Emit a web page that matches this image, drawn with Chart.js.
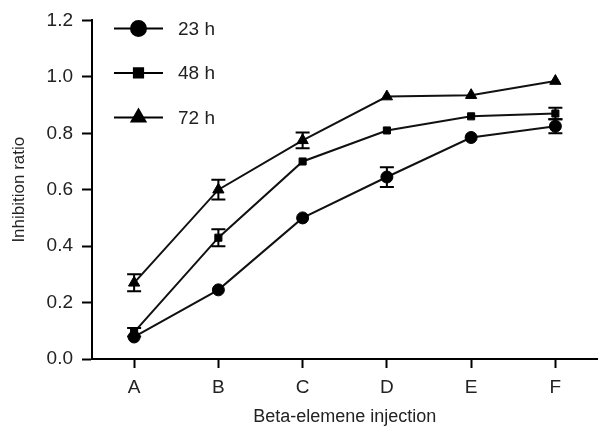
<!DOCTYPE html>
<html>
<head>
<meta charset="utf-8">
<script src="https://cdn.jsdelivr.net/npm/chart.js@4.4.0/dist/chart.umd.min.js"></script>
<style>
  html, body { margin: 0; padding: 0; background: #fff; }
  #wrap { width: 605px; height: 432px; }
</style>
</head>
<body>
<div id="wrap"><canvas id="chart"></canvas></div>
<script>
const labels = ['A', 'B', 'C', 'D', 'E', 'F'];
const yTicks = [0, 0.2, 0.4, 0.6, 0.8, 1.0, 1.2];

const h23 = [0.078, 0.245, 0.50, 0.645, 0.785, 0.825];
const h48 = [0.095, 0.43, 0.70, 0.81, 0.86, 0.87];
const h72 = [0.27, 0.60, 0.775, 0.93, 0.935, 0.985];

const err23 = [0, 0, 0, 0.035, 0, 0.025];
const err48 = [0.015, 0.03, 0, 0, 0, 0.02];
const err72 = [0.03, 0.035, 0.028, 0, 0, 0];

const seriesNames = ['23 h', '48 h', '72 h'];
const FONT = '"Liberation Sans", Arial, sans-serif';

// error bars drawn with the chart's own scales
const errorBars = {
    id: 'errorBars',
    afterDatasetsDraw(chart) {
        const ctx = chart.ctx;
        const x = chart.scales.x, y = chart.scales.y;
        const errs = [err23, err48, err72];
        ctx.save();
        ctx.strokeStyle = '#000';
        ctx.lineWidth = 2;
        chart.data.datasets.forEach((ds, i) => {
            ds.data.forEach((v, j) => {
                const e = errs[i][j];
                if (!e) return;
                const px = x.getPixelForValue(j);
                const top = y.getPixelForValue(v + e);
                const bot = y.getPixelForValue(v - e);
                ctx.beginPath();
                ctx.moveTo(px, top); ctx.lineTo(px, bot);
                ctx.moveTo(px - 7, top); ctx.lineTo(px + 7, top);
                ctx.moveTo(px - 7, bot); ctx.lineTo(px + 7, bot);
                ctx.stroke();
            });
        });
        ctx.restore();
    }
};

// legend inside the plot, upper left
const insideLegend = {
    id: 'insideLegend',
    afterDraw(chart) {
        const ctx = chart.ctx;
        const area = chart.chartArea;
        ctx.save();
        chart.data.datasets.forEach((ds, i) => {
            const cy = area.top + 8 + i * 44.5;
            const x0 = area.left + 22, x1 = area.left + 71;
            ctx.strokeStyle = '#000';
            ctx.lineWidth = 2;
            ctx.beginPath();
            ctx.moveTo(x0, cy); ctx.lineTo(x1, cy);
            ctx.stroke();
            ctx.fillStyle = '#000';
            Chart.helpers.drawPoint(ctx, {
                pointStyle: ds.pointStyle,
                radius: ds.pointRadius + 1.5,
                borderWidth: 1
            }, (x0 + x1) / 2, cy);
            ctx.font = '19px ' + FONT;
            ctx.textBaseline = 'middle';
            ctx.textAlign = 'left';
            ctx.fillStyle = '#222';
            ctx.fillText(ds.label, area.left + 86, cy + 1);
        });
        ctx.restore();
    }
};

function makeSet(name, data, style, r) {
    return {
        label: name,
        data: data,
        borderColor: '#111',
        backgroundColor: '#000',
        borderWidth: 2,
        pointStyle: style,
        pointRadius: r,
        pointBorderColor: '#000',
        pointBackgroundColor: '#000',
        pointBorderWidth: 1,
        tension: 0,
        fill: false
    };
}

new Chart(document.getElementById('chart'), {
    type: 'line',
    data: {
        labels: labels,
        datasets: [
            makeSet(seriesNames[0], h23, 'circle', 6),
            makeSet(seriesNames[1], h48, 'rect', 5),
            makeSet(seriesNames[2], h72, 'triangle', 6.5)
        ]
    },
    options: {
        responsive: true,
        maintainAspectRatio: false,
        animation: false,
        layout: { padding: { top: 20, right: 1, left: 6, bottom: 4 } },
        plugins: {
            legend: { display: false },
            tooltip: { enabled: false }
        },
        scales: {
            x: {
                offset: true,
                grid: { display: true, drawOnChartArea: false, drawTicks: true, tickLength: 9, tickColor: '#000', tickWidth: 2, offset: false },
                border: { color: '#000', width: 2 },
                ticks: { color: '#222', font: { size: 19, family: FONT }, padding: 8 },
                title: {
                    display: true,
                    text: 'Beta-elemene injection',
                    color: '#222',
                    font: { size: 18, family: FONT },
                    padding: { top: 16, bottom: 0 }
                },
                afterFit(scale) { scale.height = 69; }
            },
            y: {
                min: 0,
                max: 1.2,
                afterBuildTicks(scale) { scale.ticks = yTicks.map(v => ({ value: v })); },
                grid: { display: true, drawOnChartArea: false, drawTicks: true, tickLength: 10, tickColor: '#000', tickWidth: 2 },
                border: { color: '#000', width: 2 },
                ticks: {
                    color: '#222',
                    font: { size: 19, family: FONT },
                    padding: 9,
                    callback: v => v.toFixed(1)
                },
                title: {
                    display: true,
                    text: 'Inhibition ratio',
                    color: '#222',
                    font: { size: 17, family: FONT },
                    padding: { top: 3, bottom: 8 }
                },
                afterFit(scale) { scale.width = 86; }
            }
        }
    },
    plugins: [errorBars, insideLegend]
});
</script>
</body>
</html>
